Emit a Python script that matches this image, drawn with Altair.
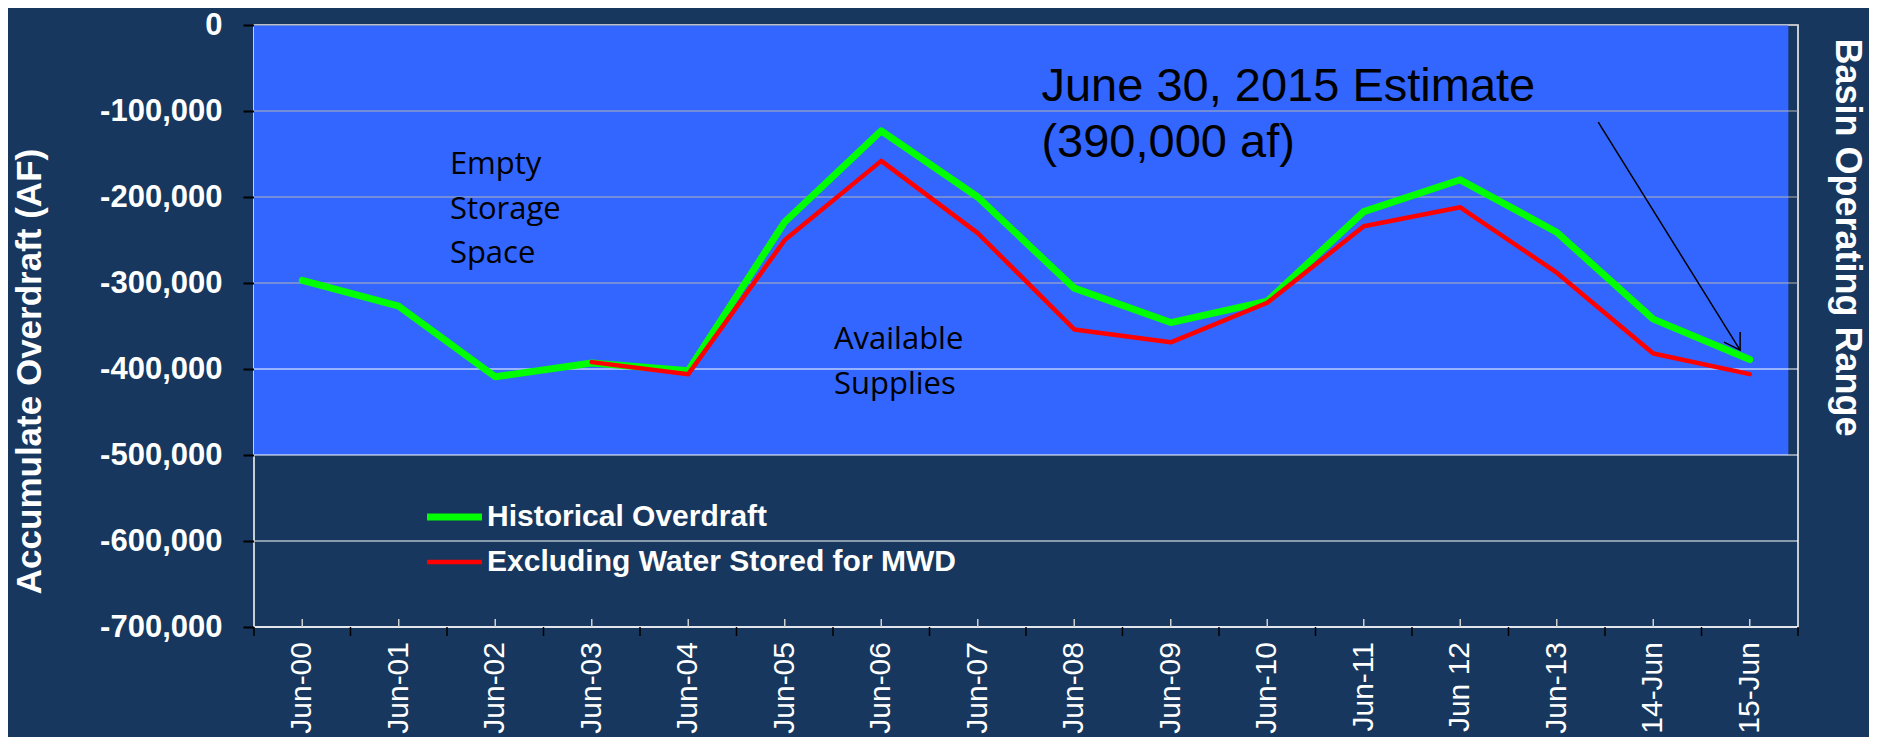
import altair as alt
import pandas as pd

# ---------------- data ----------------
categories = ["Jun-00", "Jun-01", "Jun-02", "Jun-03", "Jun-04", "Jun-05", "Jun-06", "Jun-07",
              "Jun-08", "Jun-09", "Jun-10", "Jun-11", "Jun 12", "Jun-13", "14-Jun", "15-Jun"]
historical = [-297000, -327000, -409000, -393000, -402000, -229000, -123000, -200000,
              -306000, -346000, -321000, -217000, -180000, -241000, -342000, -389000]
excluding = [None, None, None, -392000, -406000, -250000, -158000, -242000,
             -354000, -369000, -323000, -234000, -212000, -288000, -382000, -406000]
series_names = ["Historical Overdraft", "Excluding Water Stored for MWD"]
y_ticks = [0, -100000, -200000, -300000, -400000, -500000, -600000, -700000]

# basin operating range (shaded band)
range_x = [-0.5, 15.4]
range_y = [0, -500000]

# annotation arrow (data units)
arrow_x = [13.43, 14.90]
arrow_y = [-113000, -378000]

notes_x = [1.53, 5.51, 7.66]
notes_y = [-173800, -376800, -88800]
notes_text = ["Empty\nStorage\nSpace", "Available\nSupplies", "June 30, 2015 Estimate\n(390,000 af)"]

# ---------------- frames ----------------
rows = []
for i, (c, v) in enumerate(zip(categories, historical)):
    rows.append({"i": i, "cat": c, "value": v, "series": series_names[0]})
for i, (c, v) in enumerate(zip(categories, excluding)):
    if v is not None:
        rows.append({"i": i, "cat": c, "value": v, "series": series_names[1]})
df = pd.DataFrame(rows)

Y_MIN = y_ticks[-1]
rng = pd.DataFrame({"x0": [range_x[0]], "x1": [range_x[1]], "y0": [range_y[0]], "y1": [range_y[1]]})
grid = pd.DataFrame({"v": y_ticks})
cats = pd.DataFrame({"i": list(range(len(categories))), "cat": categories})
bounds = pd.DataFrame({"b": [i - 0.5 for i in range(len(categories) + 1)]})
arrow = pd.DataFrame({"x0": [arrow_x[0]], "x1": [arrow_x[1]], "y0": [arrow_y[0]], "y1": [arrow_y[1]]})
notes = pd.DataFrame({"x": notes_x, "y": notes_y, "text": notes_text})

W, H = 1544, 602
BG = "#17375E"

xs = alt.Scale(domain=[-0.5, len(categories) - 0.5], nice=False, zero=False)
ys = alt.Scale(domain=[Y_MIN, 0], nice=False, zero=False)

y_axis = alt.Axis(
    values=y_ticks,
    labelExpr="replace(format(datum.value, ','), '\u2212', '-')",
    labelFontSize=31, labelFont="Liberation Sans", labelFontWeight="bold", labelColor="white",
    labelPadding=21, tickColor="black", tickSize=11, tickWidth=2, domain=False, grid=False,
    title="Accumulate Overdraft (AF)", titleFontSize=35, titleFont="Liberation Sans",
    titleFontWeight="bold", titleColor="white", titleAngle=270, titleX=-225, titleY=346,
    titleAlign="center", titleBaseline="middle",
)
r_axis = alt.Axis(
    orient="right", labels=False, ticks=False, domain=False, grid=False,
    title="Basin Operating Range", titleFontSize=36, titleFont="Liberation Sans",
    titleFontWeight="bold", titleColor="white", titleAngle=90, titleX=48, titleY=212,
    titleAlign="center", titleBaseline="middle",
)

legend = alt.Legend(
    orient="none", legendX=169.5, legendY=461, title=None, symbolType="stroke",
    symbolSize=3025, labelFontSize=30, labelFont="Liberation Sans", labelFontWeight="bold",
    labelColor="white", labelOffset=1.5, rowPadding=-7, padding=0, labelLimit=800,
)
color = alt.Color("series:N", scale=alt.Scale(domain=series_names, range=["#00FF00", "#FF0000"]), legend=legend)
width_enc = alt.StrokeWidth("series:N", scale=alt.Scale(domain=series_names, range=[7, 4.5]), legend=legend)

band = alt.Chart(rng).mark_rect(color="#3366FF").encode(
    x=alt.X("x0:Q", scale=xs, axis=None), x2="x1:Q",
    y=alt.Y("y0:Q", scale=ys, axis=r_axis), y2="y1:Q",
)

gridlines = alt.Chart(grid).mark_rule(strokeWidth=1.2).encode(
    y=alt.Y("v:Q", scale=ys, axis=None),
    color=alt.condition(alt.datum.v <= -400000, alt.value("#FFFFFF"), alt.value("#B4B4B4")),
)

# small up-ticks at category centres, black down-ticks at category boundaries
center_ticks = alt.Chart(cats).mark_rule(color="#D0D0D0", strokeWidth=1.5, y2Offset=-8).encode(
    x=alt.X("i:Q", scale=xs, axis=None),
    y=alt.datum(Y_MIN, scale=ys, axis=None),
    y2=alt.datum(Y_MIN),
)
bound_ticks = alt.Chart(bounds).mark_rule(color="black", strokeWidth=1.5, y2Offset=9).encode(
    x=alt.X("b:Q", scale=xs, axis=None),
    y=alt.datum(Y_MIN, scale=ys, axis=None),
    y2=alt.datum(Y_MIN),
)
x_labels = alt.Chart(cats).mark_text(
    angle=270, align="right", baseline="middle", dx=-15, font="Liberation Sans",
    fontSize=30, color="white").encode(
    x=alt.X("i:Q", scale=xs, axis=None),
    y=alt.datum(Y_MIN, scale=ys, axis=None),
    text="cat:N",
)

green = alt.Chart(df).transform_filter(alt.datum.series == series_names[0]).mark_line(
    strokeCap="round", strokeJoin="round").encode(
    x=alt.X("i:Q", scale=xs, axis=None),
    y=alt.Y("value:Q", scale=ys, axis=y_axis),
    color=color, strokeWidth=width_enc,
)
red = alt.Chart(df).transform_filter(alt.datum.series == series_names[1]).mark_line(
    strokeCap="round", strokeJoin="round").encode(
    x=alt.X("i:Q", scale=xs, axis=None),
    y=alt.Y("value:Q", scale=ys, axis=None),
    color=color, strokeWidth=width_enc,
)

def note_layer(idx, font, size, lh):
    return alt.Chart(notes.iloc[[idx]]).mark_text(
        align="left", baseline="alphabetic", font=font, fontSize=size, color="black",
        lineBreak="\n", lineHeight=lh).encode(
        x=alt.X("x:Q", scale=xs, axis=None),
        y=alt.Y("y:Q", scale=ys, axis=None),
        text="text:N",
    )

note_empty = note_layer(0, "Open Sans", 31, 44.5)
note_avail = note_layer(1, "Open Sans", 31, 45)
note_est = note_layer(2, "Liberation Sans", 47, 56)

arrow_line = alt.Chart(arrow).mark_rule(color="black", strokeWidth=1.5).encode(
    x=alt.X("x0:Q", scale=xs, axis=None), x2="x1:Q",
    y=alt.Y("y0:Q", scale=ys, axis=None), y2="y1:Q",
)
arrow_head = alt.Chart(arrow).mark_point(
    shape="M -0.625 -1 L 0 0 L 0.625 -1", size=930, filled=False, color="black",
    strokeWidth=1.5, angle=328.3, opacity=1).encode(
    x=alt.X("x1:Q", scale=xs, axis=None),
    y=alt.Y("y1:Q", scale=ys, axis=None),
)

chart = alt.layer(
    band, gridlines, center_ticks, bound_ticks, x_labels, green, red,
    note_empty, note_avail, note_est, arrow_line, arrow_head
).resolve_axis(y="independent").properties(
    width=W, height=H, autosize=alt.AutoSizeParams(type="none"),
    padding={"left": 246, "top": 17, "right": 71, "bottom": 110},
    background=BG,
).configure_view(stroke="white", strokeWidth=1.5)

chart.save("out.html", embed_options={"renderer": "svg", "actions": False})
